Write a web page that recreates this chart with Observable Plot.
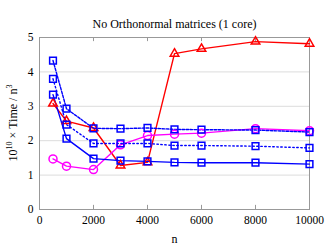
<!DOCTYPE html>
<html>
<head>
<meta charset="utf-8">
<script src="https://cdn.jsdelivr.net/npm/d3@7"></script>
<script src="https://cdn.jsdelivr.net/npm/@observablehq/plot@0.6"></script>
<style>
  html, body { margin: 0; padding: 0; background: #fff; }
  #chart svg { display: block; }
</style>
</head>
<body>
<div id="chart"></div>
<script>
const title = "No Orthonormal matrices (1 core)";
const xLabel = "n";
const ns = [500, 1000, 2000, 3000, 4000, 5000, 6000, 8000, 10000];
const blueSolid  = [3.34, 2.06, 1.48, 1.42, 1.40, 1.37, 1.36, 1.36, 1.32];
const blueDotted = [4.33, 2.93, 2.36, 2.35, 2.37, 2.33, 2.32, 2.31, 2.25];
const blueDashDot = [3.80, 2.47, 1.92, 1.92, 1.92, 1.86, 1.86, 1.84, 1.79];
const redSeries  = [3.08, 2.57, 2.37, 1.28, 1.37, 4.53, 4.67, 4.88, 4.82];
const magentaSeries = [1.47, 1.26, 1.16, 1.88, 2.15, 2.19, 2.22, 2.35, 2.29];
const xTicks = [0, 2000, 4000, 6000, 8000, 10000];
const yTicks = [0, 1, 2, 3, 4, 5];

const FONT = "'Liberation Serif', serif";

const series = [
  {vals: redSeries, color: "#ff0000", symbol: "triangle", r: 3.2, dash: null},
  {vals: magentaSeries, color: "#ff00ff", symbol: "circle", r: 4.0, dash: null},
  {vals: blueSolid, color: "#0000ff", symbol: "square", r: 3.8, dash: null},
  {vals: blueDotted, color: "#0000ff", symbol: "square", r: 3.8, dash: "2.5,1.5"},
  {vals: blueDashDot, color: "#0000ff", symbol: "square", r: 3.8, dash: "1.5,2.5"}
];

const marks = [];
marks.push(Plot.ruleY(yTicks.filter(d => d > 0 && d < 5), {stroke: "#dcdcdc", strokeWidth: 1}));
marks.push(Plot.ruleX(xTicks.filter(d => d > 0 && d < 10000), {y1: 0, y2: 0.12, stroke: "#999"}));
marks.push(Plot.ruleX(xTicks.filter(d => d > 0 && d < 10000), {y1: 4.88, y2: 5, stroke: "#999"}));
marks.push(Plot.frame({stroke: "#999", strokeWidth: 1}));

for (const s of series) {
  const data = ns.map((n, i) => ({n, v: s.vals[i]}));
  marks.push(Plot.line(data, {x: "n", y: "v", stroke: s.color, strokeWidth: 1.4, strokeDasharray: s.dash || undefined}));
}
for (const s of series) {
  const data = ns.map((n, i) => ({n, v: s.vals[i]}));
  marks.push(Plot.dot(data, {x: "n", y: "v", stroke: s.color, strokeWidth: 1.5, symbol: s.symbol, r: s.r, fill: "none"}));
}
marks.push(Plot.axisX(xTicks, {tickSize: 0, tickPadding: 6, label: null, fontSize: 11.5, tickFormat: d => String(d)}));
marks.push(Plot.axisY(yTicks, {tickSize: 0, tickPadding: 6, label: null, fontSize: 11.5, tickFormat: d => String(d)}));
marks.push(Plot.text([title], {frameAnchor: "top", dy: -18, fontSize: 12}));
marks.push(Plot.text([xLabel], {frameAnchor: "bottom", dy: 33, fontSize: 12}));

const chart = Plot.plot({
  width: 332,
  height: 249,
  marginTop: 37,
  marginBottom: 40,
  marginLeft: 39,
  marginRight: 23,
  x: {domain: [0, 10000]},
  y: {domain: [0, 5]},
  style: {color: "#000", background: "#fff"},
  marks
});

const svg = d3.select(chart);
const yl = svg.append("text")
  .attr("transform", "translate(17,123) rotate(-90)")
  .attr("text-anchor", "middle")
  .attr("font-size", 12)
  .attr("fill", "#000");
yl.append("tspan").text("10");
yl.append("tspan").attr("font-size", 8).attr("dy", -5).text("10");
yl.append("tspan").attr("dy", 5).text(" × Time / n");
yl.append("tspan").attr("font-size", 8).attr("dy", -5).text("3");

svg.attr("font-family", null).style("font-family", FONT);
svg.selectAll("g").attr("font-family", null);
svg.selectAll("text").style("font-family", FONT);

document.getElementById("chart").appendChild(chart);
</script>
</body>
</html>
